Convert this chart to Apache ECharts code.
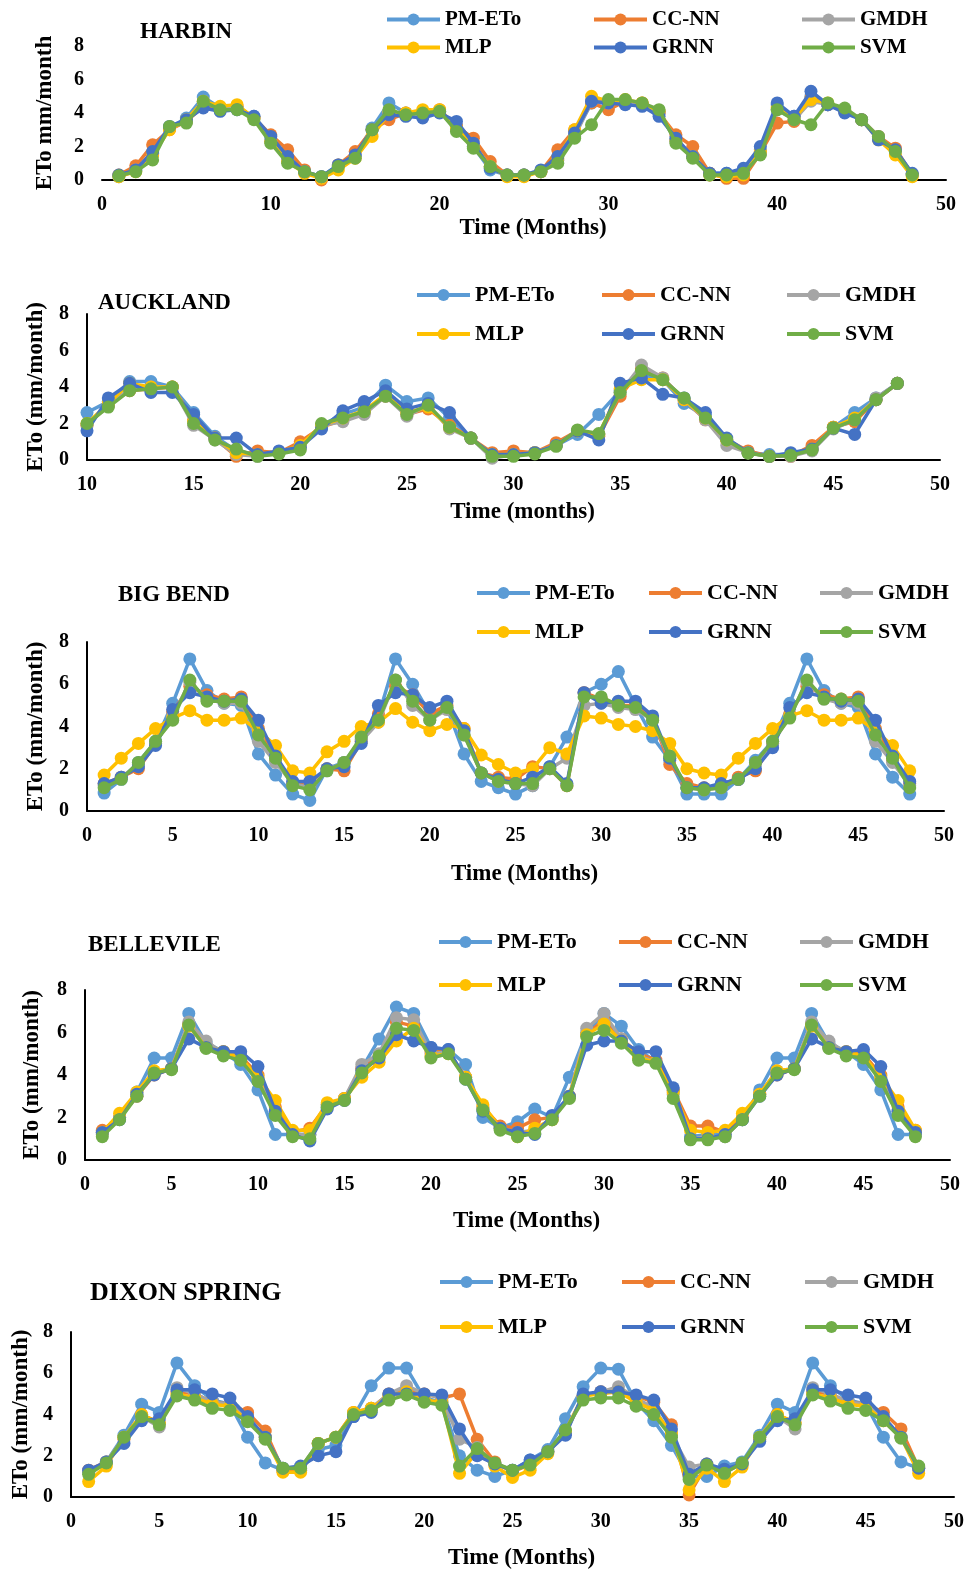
<!DOCTYPE html>
<html>
<head>
<meta charset="utf-8">
<script src="https://cdn.jsdelivr.net/npm/echarts@6/dist/echarts.min.js"></script>
<style>
  html, body { margin: 0; padding: 0; background: #ffffff; }
  #chart { width: 969px; height: 1572px; }
</style>
</head>
<body>
<div id="chart"></div>
<script>
// Model names and their colours
const modelNames = ['PM-ETo', 'CC-NN', 'GMDH', 'MLP', 'GRNN', 'SVM'];
const modelColors = ['#5B9BD5', '#ED7D31', '#A5A5A5', '#FFC000', '#4472C4', '#70AD47'];

// ---------- HARBIN (months 1-48) ----------
const harbinPM   = [0.2,0.6,1.6,3.1,3.7,4.95,4.3,4.3,3.8,2.4,1.2,0.5,0.2,0.9,1.5,3.1,4.6,4.0,4.0,4.1,3.2,2.0,0.6,0.3,0.3,0.5,1.2,2.7,4.6,4.6,4.7,4.5,4.0,2.4,1.4,0.4,0.4,0.5,1.8,4.5,3.8,5.0,4.5,4.1,3.6,2.5,1.8,0.3];
const harbinCC   = [0.3,0.85,2.1,3.0,3.5,4.4,4.3,4.4,3.7,2.7,1.8,0.6,0.0,0.9,1.7,3.0,3.6,4.0,4.1,4.2,3.2,2.5,1.1,0.3,0.3,0.5,1.8,3.0,4.6,4.2,4.7,4.6,4.0,2.7,2.0,0.4,0.1,0.1,1.6,3.4,3.5,4.9,4.5,4.1,3.6,2.6,1.9,0.3];
const harbinGMDH = [0.25,0.6,1.5,3.1,3.5,4.6,4.3,4.3,3.7,2.3,1.1,0.5,0.2,0.8,1.4,3.0,4.1,3.9,4.0,4.1,3.0,2.0,0.8,0.3,0.3,0.5,1.2,2.6,4.7,4.6,4.7,4.5,4.1,2.3,1.4,0.3,0.3,0.4,1.6,4.2,3.6,4.7,4.5,4.2,3.6,2.6,1.7,0.3];
const harbinMLP  = [0.2,0.5,1.5,3.0,3.6,4.7,4.4,4.5,3.7,2.3,1.1,0.4,0.1,0.6,1.3,2.6,4.0,4.0,4.2,4.2,3.1,2.1,0.8,0.2,0.2,0.5,1.3,3.0,5.0,4.7,4.8,4.6,4.1,2.4,1.4,0.3,0.2,0.3,1.7,4.3,3.7,4.8,4.6,4.2,3.6,2.4,1.5,0.2];
const harbinGRNN = [0.3,0.6,1.7,3.2,3.6,4.3,4.1,4.2,3.8,2.6,1.4,0.5,0.2,0.9,1.5,3.0,3.9,3.8,3.7,4.0,3.5,2.2,0.7,0.3,0.3,0.6,1.4,2.8,4.7,4.6,4.5,4.4,3.8,2.5,1.4,0.4,0.4,0.7,2.0,4.6,3.8,5.3,4.5,4.0,3.6,2.4,1.8,0.4];
const harbinSVM  = [0.25,0.5,1.2,3.2,3.4,4.7,4.2,4.2,3.6,2.2,1.0,0.5,0.2,0.8,1.3,3.0,4.2,3.9,4.0,4.1,2.9,1.9,0.8,0.3,0.3,0.5,1.0,2.5,3.3,4.8,4.8,4.6,4.2,2.2,1.3,0.3,0.3,0.4,1.5,4.2,3.6,3.3,4.6,4.3,3.6,2.6,1.7,0.3];

// ---------- AUCKLAND (months 10-48) ----------
const aucklandPM   = [2.6,3.2,4.3,4.3,4.0,2.6,1.3,0.5,0.3,0.4,0.7,1.9,2.5,2.9,4.1,3.2,3.4,2.3,1.2,0.3,0.3,0.4,0.8,1.4,2.5,3.8,4.7,4.4,3.1,2.4,1.1,0.4,0.3,0.3,0.6,1.8,2.6,3.4,4.2];
const aucklandCC   = [1.9,3.0,3.8,3.9,4.0,2.2,1.2,0.2,0.5,0.4,1.0,1.8,2.2,2.6,3.5,2.5,2.8,1.9,1.2,0.4,0.5,0.4,0.95,1.6,1.3,3.5,5.0,4.5,3.3,2.2,1.1,0.5,0.2,0.2,0.8,1.8,2.1,3.3,4.2];
const aucklandGMDH = [1.9,3.0,3.9,4.0,4.0,1.9,1.1,0.3,0.2,0.4,0.7,1.9,2.1,2.5,3.5,2.4,3.0,1.7,1.2,0.1,0.3,0.4,0.8,1.6,1.4,3.7,5.2,4.5,3.3,2.2,0.8,0.4,0.2,0.2,0.5,1.7,2.2,3.4,4.2];
const aucklandMLP  = [2.0,3.1,4.2,4.0,4.0,2.1,1.2,0.4,0.3,0.4,0.8,1.9,2.3,2.7,3.6,2.6,2.9,1.8,1.2,0.3,0.3,0.4,0.8,1.6,1.4,3.9,4.4,4.4,3.3,2.3,1.1,0.4,0.2,0.3,0.6,1.8,2.3,3.3,4.2];
const aucklandGRNN = [1.6,3.4,4.2,3.7,3.7,2.5,1.2,1.2,0.3,0.5,0.7,1.7,2.7,3.2,3.8,2.8,3.1,2.6,1.2,0.3,0.3,0.4,0.8,1.6,1.1,4.2,4.5,3.6,3.4,2.6,1.2,0.4,0.2,0.4,0.6,1.75,1.4,3.3,4.2];
const aucklandSVM  = [2.0,2.9,3.8,3.9,4.0,2.0,1.1,0.6,0.2,0.33,0.55,2.0,2.3,2.65,3.5,2.5,3.0,1.8,1.2,0.2,0.2,0.33,0.75,1.65,1.45,3.7,4.9,4.4,3.4,2.3,1.1,0.37,0.2,0.25,0.55,1.75,2.2,3.3,4.2];

// ---------- BIG BEND (months 1-48) ----------
const bigBendPM   = [0.85,1.5,2.3,3.3,5.1,7.2,5.7,5.1,5.0,2.7,1.7,0.8,0.5,2.0,2.3,3.4,4.5,7.2,6.0,4.6,4.9,2.7,1.4,1.1,0.8,1.2,2.1,3.5,5.6,6.0,6.6,5.0,3.5,2.4,0.8,0.8,0.8,1.5,2.4,3.3,5.1,7.2,5.7,5.1,4.9,2.7,1.6,0.8];
const bigBendCC   = [1.3,1.6,2.0,3.2,4.7,5.9,5.5,5.3,5.4,3.9,2.4,1.3,1.2,2.0,1.9,3.3,4.6,5.9,5.5,4.6,5.0,3.9,1.8,1.6,1.5,2.1,2.0,1.2,5.6,5.3,5.0,5.0,4.4,2.2,1.3,1.1,1.2,1.6,1.9,3.2,4.6,5.9,5.5,5.3,5.4,3.9,2.4,1.3];
const bigBendGMDH = [1.2,1.6,2.2,3.2,4.5,6.1,5.3,5.1,5.1,3.3,2.3,1.3,1.1,1.9,2.3,3.3,4.2,6.2,5.0,4.3,4.8,3.6,1.8,1.4,1.3,1.2,2.0,2.5,5.0,5.1,4.9,4.8,4.3,2.5,1.1,1.0,1.1,1.5,2.2,3.2,4.5,6.1,5.3,5.1,5.1,3.3,2.3,1.2];
const bigBendMLP  = [1.7,2.5,3.2,3.9,4.4,4.75,4.3,4.3,4.4,3.8,3.1,1.9,1.8,2.8,3.3,4.0,4.2,4.85,4.2,3.8,4.1,3.9,2.65,2.2,1.8,2.0,3.0,2.7,4.5,4.4,4.1,4.0,3.8,3.2,2.0,1.8,1.7,2.5,3.2,3.9,4.5,4.75,4.3,4.3,4.4,3.8,3.1,1.9];
const bigBendGRNN = [1.3,1.6,2.1,3.1,4.8,5.6,5.4,5.2,5.3,4.3,2.6,1.4,1.4,2.0,2.1,3.2,5.0,5.6,5.5,4.9,5.2,3.8,1.8,1.5,1.3,1.6,2.1,1.3,5.6,5.1,5.2,5.2,4.5,2.5,1.1,1.1,1.3,1.5,2.0,3.0,4.9,5.6,5.4,5.2,5.3,4.3,2.6,1.4];
const bigBendSVM  = [1.1,1.5,2.3,3.3,4.3,6.2,5.2,5.2,5.2,3.6,2.5,1.2,1.0,1.9,2.3,3.5,4.3,6.2,5.2,4.3,4.9,3.6,1.8,1.4,1.3,1.3,2.0,1.2,5.4,5.4,5.0,4.9,4.3,2.6,1.1,1.0,1.1,1.5,2.3,3.3,4.4,6.2,5.3,5.3,5.2,3.6,2.5,1.1];

// ---------- BELLEVILE (months 1-48) ----------
const bellevilePM   = [1.3,2.0,3.2,4.8,4.8,6.9,5.5,5.1,4.5,3.3,1.2,1.2,1.2,2.6,2.9,4.3,5.7,7.2,6.9,5.3,5.2,4.5,2.0,1.5,1.8,2.4,2.0,3.9,6.0,6.9,6.3,5.2,4.6,3.3,1.1,1.2,1.2,1.9,3.3,4.8,4.8,6.9,5.5,5.1,4.5,3.3,1.2,1.2];
const bellevileCC   = [1.4,2.0,3.0,4.0,4.3,6.4,5.4,5.1,4.9,4.0,2.5,1.3,1.5,2.6,2.9,4.3,4.9,6.5,6.3,5.1,5.1,3.9,2.5,1.6,1.5,1.9,2.0,3.0,5.9,6.6,5.7,5.0,4.7,3.3,1.6,1.6,1.3,2.0,3.1,4.0,4.3,6.4,5.4,5.1,5.0,4.0,2.5,1.4];
const bellevileGMDH = [1.2,2.0,3.0,4.1,4.3,6.5,5.6,5.0,4.8,3.8,2.3,1.2,1.2,2.5,2.9,4.5,5.0,6.7,6.6,5.0,5.1,3.9,2.4,1.5,1.3,1.4,1.9,3.0,6.2,6.9,5.7,4.9,4.6,3.1,1.0,1.1,1.1,1.9,3.1,4.2,4.3,6.5,5.6,5.0,4.9,3.8,2.3,1.2];
const bellevileMLP  = [1.3,2.2,3.2,4.2,4.3,6.3,5.3,5.1,4.8,3.9,2.8,1.4,1.4,2.7,2.9,3.9,4.6,5.6,6.2,4.9,5.0,3.9,2.6,1.5,1.1,1.5,1.9,3.0,5.9,6.4,5.6,4.8,4.6,3.2,1.4,1.3,1.4,2.2,3.1,4.2,4.3,6.3,5.3,5.1,4.9,3.9,2.8,1.4];
const bellevileGRNN = [1.3,1.9,3.1,4.0,4.3,5.7,5.3,5.1,5.1,4.4,2.3,1.2,0.9,2.4,2.8,4.2,4.8,5.9,5.6,5.3,5.2,3.8,2.3,1.5,1.3,1.2,2.1,3.0,5.4,5.6,5.6,5.1,5.1,3.4,1.0,1.0,1.2,1.9,3.0,4.0,4.3,5.7,5.3,5.1,5.2,4.4,2.3,1.3];
const bellevileSVM  = [1.1,1.9,3.0,4.1,4.25,6.35,5.25,4.9,4.7,3.7,2.1,1.1,1.0,2.5,2.8,4.1,4.9,6.2,6.1,4.8,5.0,3.8,2.35,1.4,1.1,1.25,1.9,2.9,5.8,6.1,5.5,4.7,4.55,2.9,0.95,0.95,1.1,1.9,3.0,4.1,4.25,6.35,5.25,4.9,4.8,3.7,2.1,1.1];

// ---------- DIXON SPRING (months 1-48) ----------
const dixonPM   = [1.2,1.7,3.0,4.5,4.1,6.5,5.4,4.7,4.5,2.9,1.65,1.3,1.3,2.3,2.5,3.9,5.4,6.25,6.25,4.8,4.6,2.0,1.3,1.0,1.3,1.8,2.3,3.8,5.35,6.25,6.2,4.6,3.7,2.5,1.0,1.0,1.5,1.7,3.0,4.5,4.1,6.5,5.4,4.7,4.5,2.9,1.7,1.4];
const dixonCC   = [1.3,1.7,2.8,4.0,3.6,5.1,5.0,4.6,4.5,4.1,3.2,1.3,1.3,2.6,2.9,4.1,4.3,5.0,5.2,5.0,4.8,5.0,2.8,1.7,1.2,1.6,2.2,3.1,4.9,5.1,5.1,4.9,4.6,3.5,0.1,1.6,1.2,1.6,2.8,4.0,3.6,5.1,5.0,4.6,4.5,4.1,3.3,1.4];
const dixonGMDH = [1.2,1.7,2.9,3.9,3.4,5.3,5.0,4.6,4.5,3.8,2.9,1.4,1.4,2.6,2.9,4.0,4.3,5.0,5.4,5.0,4.8,2.8,2.4,1.6,1.3,1.6,2.2,3.2,4.9,5.1,5.35,4.8,4.3,3.0,1.45,1.6,1.3,1.6,2.9,3.9,3.3,5.3,5.0,4.6,4.5,3.8,2.9,1.4];
const dixonMLP  = [0.75,1.5,2.9,4.0,3.6,5.0,4.8,4.5,4.4,3.7,2.9,1.2,1.2,2.6,2.9,4.1,4.3,4.9,5.1,4.7,4.6,1.15,2.2,1.5,0.95,1.3,2.1,3.2,4.9,5.0,5.1,4.6,4.2,3.1,0.35,1.4,0.75,1.45,2.9,4.0,3.6,5.0,4.8,4.5,4.4,3.7,2.9,1.15];
const dixonGRNN = [1.3,1.7,2.6,3.7,3.8,5.2,5.2,5.0,4.8,3.9,2.9,1.4,1.5,2.0,2.2,3.9,4.1,5.0,5.0,5.0,4.95,3.3,2.0,1.6,1.3,1.8,2.2,3.0,5.0,5.1,5.1,4.95,4.7,3.3,1.1,1.6,1.35,1.6,2.7,3.7,3.8,5.2,5.2,4.95,4.8,3.9,2.9,1.4];
const dixonSVM  = [1.1,1.65,2.9,3.9,3.5,4.9,4.7,4.3,4.2,3.65,2.8,1.4,1.4,2.6,2.9,4.0,4.2,4.7,4.95,4.6,4.45,1.5,2.35,1.65,1.3,1.55,2.2,3.25,4.7,4.8,4.8,4.4,4.0,2.9,0.85,1.55,1.15,1.65,2.9,3.9,3.5,4.95,4.65,4.3,4.2,3.7,2.85,1.5];

// ---------- panel layout ----------
const panels = [
  { title: 'HARBIN', titleLeft: 140, titleTop: 21, titleSize: 23,
    grid: { left: 102, top: 46, width: 844, height: 134 },
    xMin: 0, xMax: 50, xStep: 10, firstMonth: 1, yAxisLine: false,
    yName: 'ETo mm/month', yNameGap: 45, xName: 'Time (Months)', xNameGap: 37,
    legendCols: [385, 592, 800], legendRows: [18, 46], legendSize: 21,
    data: [harbinPM, harbinCC, harbinGMDH, harbinMLP, harbinGRNN, harbinSVM] },
  { title: 'AUCKLAND', titleLeft: 98, titleTop: 292, titleSize: 23,
    grid: { left: 87, top: 314, width: 853, height: 146 },
    xMin: 10, xMax: 50, xStep: 5, firstMonth: 10, yAxisLine: true,
    yName: 'ETo (mm/month)', yNameGap: 39, xName: 'Time (months)', xNameGap: 41,
    legendCols: [415, 600, 785], legendRows: [293, 332], legendSize: 22,
    data: [aucklandPM, aucklandCC, aucklandGMDH, aucklandMLP, aucklandGRNN, aucklandSVM] },
  { title: 'BIG BEND', titleLeft: 118, titleTop: 584, titleSize: 23,
    grid: { left: 87, top: 642, width: 857, height: 169 },
    xMin: 0, xMax: 50, xStep: 5, firstMonth: 1, yAxisLine: true,
    yName: 'ETo (mm/month)', yNameGap: 39, xName: 'Time (Months)', xNameGap: 52,
    legendCols: [475, 647, 818], legendRows: [591, 630], legendSize: 22,
    data: [bigBendPM, bigBendCC, bigBendGMDH, bigBendMLP, bigBendGRNN, bigBendSVM] },
  { title: 'BELLEVILE', titleLeft: 88, titleTop: 934, titleSize: 23,
    grid: { left: 85, top: 990, width: 865, height: 170 },
    xMin: 0, xMax: 50, xStep: 5, firstMonth: 1, yAxisLine: true,
    yName: 'ETo (mm/month)', yNameGap: 41, xName: 'Time (Months)', xNameGap: 50,
    legendCols: [437, 617, 798], legendRows: [940, 983], legendSize: 22,
    data: [bellevilePM, bellevileCC, bellevileGMDH, bellevileMLP, bellevileGRNN, bellevileSVM] },
  { title: 'DIXON SPRING', titleLeft: 90, titleTop: 1280, titleSize: 26,
    grid: { left: 71, top: 1332, width: 883, height: 165 },
    xMin: 0, xMax: 50, xStep: 5, firstMonth: 1, yAxisLine: true,
    yName: 'ETo (mm/month)', yNameGap: 38, xName: 'Time (Months)', xNameGap: 50,
    legendCols: [438, 620, 803], legendRows: [1280, 1325], legendSize: 22,
    data: [dixonPM, dixonCC, dixonGMDH, dixonMLP, dixonGRNN, dixonSVM] }
];

const FONT = "'Liberation Serif', 'Times New Roman', serif";
const boldText = (size) => ({ fontFamily: FONT, fontWeight: 'bold', fontSize: size, color: '#000' });

const option = {
  animation: false,
  backgroundColor: '#ffffff',
  title: [], grid: [], xAxis: [], yAxis: [], legend: [], series: []
};

panels.forEach((p, pi) => {
  option.title.push({ text: p.title, left: p.titleLeft, top: p.titleTop, padding: 0,
    textStyle: boldText(p.titleSize) });
  option.grid.push(Object.assign({ containLabel: false }, p.grid));
  option.xAxis.push({
    type: 'value', gridIndex: pi, min: p.xMin, max: p.xMax, interval: p.xStep,
    splitLine: { show: false }, axisTick: { show: false },
    axisLine: { show: true, onZero: false, lineStyle: { color: '#000', width: 2 } },
    axisLabel: Object.assign({ margin: 15 }, boldText(20)),
    name: p.xName, nameLocation: 'middle', nameGap: p.xNameGap,
    nameTextStyle: Object.assign({ padding: [0, 0, 0, 18] }, boldText(23))
  });
  option.yAxis.push({
    type: 'value', gridIndex: pi, min: 0, max: 8, interval: 2,
    splitLine: { show: false }, axisTick: { show: false },
    axisLine: { show: p.yAxisLine, lineStyle: { color: '#000', width: 2 } },
    axisLabel: Object.assign({ margin: 18 }, boldText(20)),
    name: p.yName, nameLocation: 'middle', nameGap: p.yNameGap, nameRotate: 90,
    nameTextStyle: boldText(23)
  });
  modelNames.forEach((name, mi) => {
    const col = mi % 3, row = Math.floor(mi / 3);
    option.legend.push({
      data: [name], left: p.legendCols[col], top: p.legendRows[row] - 9,
      itemWidth: 53, itemHeight: 15, itemGap: 0, padding: 0, selectedMode: false,
      lineStyle: { width: 4 },
      textStyle: boldText(p.legendSize)
    });
    option.series.push({
      name: name, type: 'line', xAxisIndex: pi, yAxisIndex: pi,
      data: p.data[mi].map((v, i) => [p.firstMonth + i, v]),
      symbol: 'circle', symbolSize: 13, showSymbol: true,
      lineStyle: { width: 3.5, color: modelColors[mi] },
      itemStyle: { color: modelColors[mi] },
      z: 2 + mi
    });
  });
});

const chart = echarts.init(document.getElementById('chart'), null, { renderer: 'canvas' });
chart.setOption(option);
</script>
</body>
</html>
